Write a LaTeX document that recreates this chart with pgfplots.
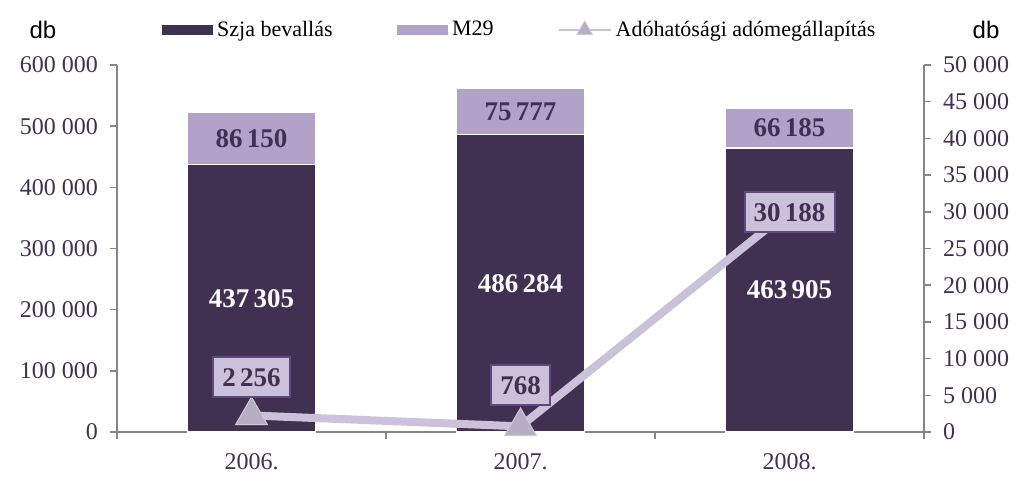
\documentclass[border=0pt]{standalone}
\usepackage{pgfplots}
\pgfplotsset{compat=1.18}
\usepackage{pgfplotstable}
\usepackage{fontspec}
\setmainfont{Liberation Serif}
\newfontfamily\dbfont{Liberation Sans}
\definecolor{darkc}{HTML}{403152}
\definecolor{lightc}{HTML}{B3A2C7}
\definecolor{linec}{HTML}{CCC1DA}
\definecolor{boxborder}{HTML}{604A7B}
\definecolor{txtc}{HTML}{3F3151}
\definecolor{axisgray}{HTML}{868686}
\definecolor{mkfill}{HTML}{B6AEC2}
\definecolor{mkdraw}{HTML}{D0C8DA}

\pgfplotstableread{
x y lab
0 218652.5 {437\,305}
1 243142 {486\,284}
2 231952.5 {463\,905}
}\darklabels
\pgfplotstableread{
x y lab
0 480380 {86\,150}
1 524172.5 {75\,777}
2 496997.5 {66\,185}
}\lightlabels
\pgfplotstableread{
x y lab dy
0 2256 {2\,256} 19
1 768 {768} 20.5
2 30188 {30\,188} -1
}\linedata

\pgfplotsset{
  common/.style={
    at={(58.5pt,24.5pt)}, anchor=south west,
    scale only axis, width=403.5pt, height=183.5pt,
    xmin=-0.5, xmax=2.5,
    scaled y ticks=false, scaled x ticks=false,
    axis line style={draw=axisgray, line width=0.75pt},
    tick style={draw=axisgray, line width=0.75pt},
    tick align=outside, major tick length=3.5pt,
    tick label style={font=\fontsize{12}{14}\selectfont, text=txtc},
  }
}

\begin{document}
\begin{tikzpicture}
\useasboundingbox (0,0) rectangle (510.5pt,240.5pt);
% bars
\begin{axis}[common,
  ybar stacked, bar width=64pt,
  ymin=0, ymax=600000,
  axis x line*=bottom, axis y line*=left,
  ytick={0,100000,200000,300000,400000,500000,600000},
  yticklabels={0,100 000,200 000,300 000,400 000,500 000,600 000},
  yticklabel style={xshift=-2.5pt},
  xtick={-0.5,0.5,1.5,2.5}, xticklabels={},
  extra x ticks={0,1,2}, extra x tick labels={2006.,2007.,2008.},
  extra x tick style={major tick length=0pt, xticklabel style={yshift=-7pt}},
  legend columns=3,
  legend style={at={(0.5,1.0954)}, anchor=center, draw=none, fill=none,
    font=\fontsize{11}{13}\selectfont,
    /tikz/every even column/.append style={column sep=30pt}},
]
\addplot[fill=darkc, draw=white, line width=0.75pt,
  legend image code/.code={\fill[darkc] (0pt,-2pt) rectangle (25pt,2pt);}]
  coordinates {(0,437305) (1,486284) (2,463905)};
\addlegendentry{Szja bevallás}
\addplot[fill=lightc, draw=white, line width=0.75pt,
  legend image code/.code={\fill[lightc] (0pt,-2pt) rectangle (25pt,2pt);}]
  coordinates {(0,86150) (1,75777) (2,66185)};
\addlegendentry{M29}
\addlegendimage{legend image code/.code={
  \draw[linec, line width=1pt] (0pt,0pt) -- (26pt,0pt);
  \filldraw[fill=mkfill, draw=mkdraw, line width=0.4pt] (13pt,0pt) ++(90:4.5pt) -- ++(240:7.8pt) -- ++(0:7.8pt) -- cycle;}}
\addlegendentry{Adóhatósági adómegállapítás}
\end{axis}
% bar labels
\begin{axis}[common, hide axis, ymin=0, ymax=600000]
\addplot[only marks, mark=none, nodes near coords, point meta=explicit symbolic,
  every node near coord/.style={anchor=center, text=white,
  font=\fontsize{13.5}{15}\selectfont\bfseries}]
  table[x=x, y=y, meta=lab] {\darklabels};
\addplot[only marks, mark=none, nodes near coords, point meta=explicit symbolic,
  every node near coord/.style={anchor=center, text=txtc,
  font=\fontsize{13.5}{15}\selectfont\bfseries}]
  table[x=x, y=y, meta=lab] {\lightlabels};
\end{axis}
% line on right axis
\begin{axis}[common,
  ymin=0, ymax=50000,
  axis x line=none, axis y line*=right,
  ytick={0,5000,10000,15000,20000,25000,30000,35000,40000,45000,50000},
  yticklabels={0,5 000,10 000,15 000,20 000,25 000,30 000,35 000,40 000,45 000,50 000},
  yticklabel style={xshift=2.5pt},
]
\addplot[draw=linec, line width=4pt, mark=triangle*, mark size=9.2pt,
  mark options={fill=mkfill, draw=mkdraw, line width=0.5pt},
  nodes near coords, point meta=explicit symbolic,
  visualization depends on={\thisrow{dy} \as \dy},
  every node near coord/.style={anchor=center, yshift=\dy,
    fill=linec, draw=boxborder, line width=1pt, inner xsep=4.5pt,
    minimum height=20pt, text=txtc,
    font=\fontsize{13.5}{15}\selectfont\bfseries}]
  table[x=x, y=y, meta=lab] {\linedata};
\end{axis}
\node[font=\dbfont\fontsize{12}{14}\selectfont] at (21.5pt,225.5pt) {db};
\node[font=\dbfont\fontsize{12}{14}\selectfont] at (493pt,225.5pt) {db};
\end{tikzpicture}
\end{document}
